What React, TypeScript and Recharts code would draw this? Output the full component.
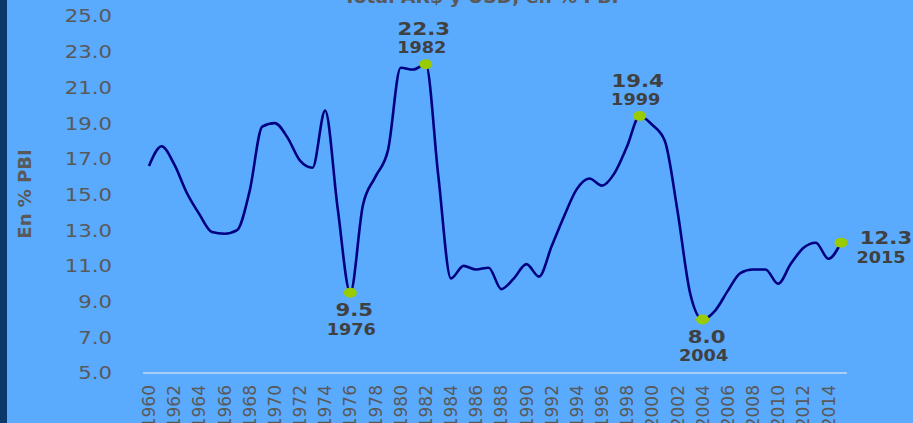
import { CartesianGrid, Line, LineChart, XAxis, YAxis } from "recharts";

const years = [
  "1960", "1961", "1962", "1963", "1964", "1965", "1966", "1967", "1968", "1969",
  "1970", "1971", "1972", "1973", "1974", "1975", "1976", "1977", "1978", "1979",
  "1980", "1981", "1982", "1983", "1984", "1985", "1986", "1987", "1988", "1989",
  "1990", "1991", "1992", "1993", "1994", "1995", "1996", "1997", "1998", "1999",
  "2000", "2001", "2002", "2003", "2004", "2005", "2006", "2007", "2008", "2009",
  "2010", "2011", "2012", "2013", "2014", "2015",
];

const pctPbi = [
  16.6, 17.7, 16.7, 15.1, 13.9, 12.9, 12.8, 13.0, 15.2, 18.8,
  19.0, 18.2, 16.9, 16.5, 19.7, 14.2, 9.5, 14.4, 16.0, 17.5,
  22.1, 22.0, 22.3, 16.0, 10.3, 11.0, 10.8, 10.9, 9.7, 10.3,
  11.1, 10.4, 12.1, 13.8, 15.3, 15.9, 15.5, 16.2, 17.7, 19.4,
  18.9, 18.0, 14.1, 9.5, 8.0, 8.5, 9.6, 10.6, 10.8, 10.8,
  10.0, 11.1, 12.0, 12.3, 11.4, 12.3,
];

const yTicks = [5, 7, 9, 11, 13, 15, 17, 19, 21, 23, 25];

// highlighted points and where their labels sit
const marked = ["1976", "1982", "1999", "2004", "2015"];
const markedPlace = ["below", "above", "above", "below", "right"];

const data = years.map((y, i) => ({ year: y, v: pctPbi[i] }));

const FONT = "'DejaVu Sans', Verdana, sans-serif";
const GRAY = "#595959";
const DARK = "#404040";
const SX = 1.18;

function StretchText({ x, y, size, anchor, color, children }: any) {
  return (
    <g transform={`translate(${x},${y}) scale(${SX},1)`}>
      <text x={0} y={0} textAnchor={anchor} fontSize={size} fontWeight="bold" fill={color} fontFamily={FONT}>
        {children}
      </text>
    </g>
  );
}

function MarkDot(props: any) {
  const { cx, cy, payload, index } = props;
  const k = marked.indexOf(payload.year);
  if (k < 0) return <g key={`d${index}`} />;
  const place = markedPlace[k];
  let vx = cx, vy = cy, yx = cx, yy = cy;
  if (place === "above") {
    vx = cx - 2; vy = cy - 29; yx = cx - 4; yy = cy - 11;
  } else if (place === "below") {
    vx = cx + 4; vy = cy + 23.5; yx = cx + 1; yy = cy + 42;
  } else {
    vx = cx + 45; vy = cy + 1; yx = cx + 40; yy = cy + 20.5;
  }
  return (
    <g key={`d${index}`}>
      <ellipse cx={cx} cy={cy} rx={6.5} ry={5} fill="#99cc00" />
      <StretchText x={vx} y={vy} size={18} anchor="middle" color={DARK}>
        {payload.v.toFixed(1)}
      </StretchText>
      <StretchText x={yx} y={yy} size={15} anchor="middle" color={DARK}>
        {payload.year}
      </StretchText>
    </g>
  );
}

function YTick({ x, y, payload }: any) {
  return (
    <g transform={`translate(${x},${y}) scale(${SX},1)`}>
      <text x={0} y={0} dy="0.36em" textAnchor="end" fontSize={18} fill={GRAY} fontFamily={FONT}>
        {Number(payload.value).toFixed(1)}
      </text>
    </g>
  );
}

function XTick({ x, y, payload }: any) {
  return (
    <text
      x={0}
      y={0}
      dy="0.36em"
      transform={`translate(${x},${y}) rotate(-90)`}
      textAnchor="end"
      fontSize={17}
      fill={GRAY}
      fontFamily={FONT}
    >
      {payload.value}
    </text>
  );
}

export default function App() {
  return (
    <div
      style={{
        position: "fixed",
        left: 0,
        top: 0,
        width: 913,
        height: 423,
        background: "#5aaafe",
        overflow: "hidden",
      }}
    >
      <div style={{ position: "absolute", left: 0, top: 0, width: 7, height: 423, background: "#0b3a6a" }} />
      <svg style={{ position: "absolute", left: 0, top: 0 }} width={913} height={30}>
        <g transform={`translate(481,3) scale(1.1,1)`}>
          <text x={0} y={0} textAnchor="middle" fontSize={17} fontWeight="bold" fill={GRAY} fontFamily={FONT}>
            Total AR$ y USD, en % PBI
          </text>
        </g>
      </svg>
      <LineChart
        width={913}
        height={423}
        data={data}
        margin={{ top: 16, right: 66, left: 0, bottom: 0 }}
        style={{ position: "absolute", left: 0, top: 0 }}
      >
        <CartesianGrid horizontal={false} vertical={false} />
        <XAxis
          dataKey="year"
          interval={1}
          height={50}
          padding={{ left: 6, right: 6 }}
          tickLine={false}
          tickSize={0}
          tickMargin={12}
          axisLine={{ stroke: "#a9cdf6", strokeWidth: 2 }}
          tick={<XTick />}
        />
        <YAxis
          width={143}
          domain={[5, 25]}
          ticks={yTicks}
          axisLine={false}
          tickLine={false}
          tickSize={0}
          tickMargin={31}
          tick={<YTick />}
          label={{
            content: () => (
              <g transform="translate(31,194) rotate(-90)">
                <text x={0} y={0} textAnchor="middle" fontSize={18} fontWeight="bold" fill={GRAY} fontFamily={FONT}>
                  En % PBI
                </text>
              </g>
            ),
          }}
        />
        <Line
          type="monotone"
          dataKey="v"
          stroke="#000080"
          strokeWidth={2.6}
          dot={MarkDot}
          activeDot={false}
          isAnimationActive={false}
        />
      </LineChart>
    </div>
  );
}
